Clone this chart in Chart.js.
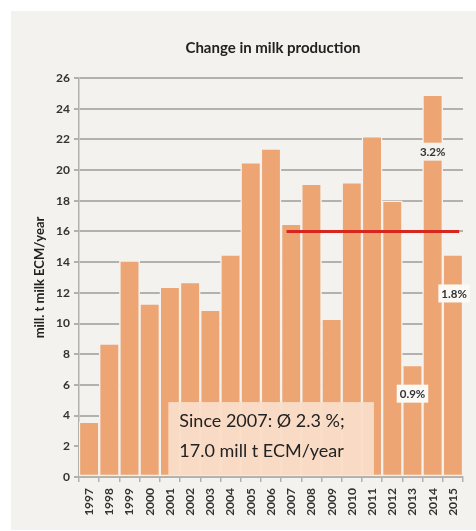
<!DOCTYPE html>
<html>
<head>
<meta charset="utf-8">
<script src="https://cdn.jsdelivr.net/npm/chart.js@4/dist/chart.umd.min.js"></script>
<style>
  html, body { margin: 0; padding: 0; background: #ffffff; }
  #wrap { width: 476px; height: 531px; position: relative; }
</style>
</head>
<body>
<div id="wrap"><canvas id="milk" width="476" height="531"></canvas></div>
<script>
// chart data
const years = ['1997','1998','1999','2000','2001','2002','2003','2004','2005','2006',
  '2007','2008','2009','2010','2011','2012','2013','2014','2015'];
const production = [3.6, 8.7, 14.1, 11.3, 12.4, 12.7, 10.9, 14.5, 20.5, 21.4,
  16.5, 19.1, 10.3, 19.2, 22.2, 18.0, 7.3, 24.9, 14.5];
const yTicks = [0, 2, 4, 6, 8, 10, 12, 14, 16, 18, 20, 22, 24, 26];
const averageSince2007 = 16.0;
const titleText = 'Change in milk production';
const noteLines = ['Since 2007: Ø 2.3 %;', '17.0 mill t ECM/year'];
const pctLabels = ['0.9%', '3.2%', '1.8%'];

const PANEL = '#f3f2ee';
const BAR = '#eda574';
const GRID = '#b3b1ad';
const TEXT = '#333333';
const FONT = 'Lato, "Open Sans", sans-serif';

// panel background behind everything
const panelBg = {
  id: 'panelBg',
  beforeDraw(chart) {
    const c = chart.ctx;
    c.save();
    c.fillStyle = PANEL;
    c.fillRect(11, 11, chart.width - 11, chart.height - 12);
    c.restore();
  }
};

// title centred over the plot, average line, % labels and note box
const extras = {
  id: 'extras',
  afterDatasetsDraw(chart) {
    const c = chart.ctx;
    const x = chart.scales.x, y = chart.scales.y;
    const area = chart.chartArea;
    const step = x.getPixelForValue(1) - x.getPixelForValue(0);
    const xAt = (i, f) => x.getPixelForValue(i) + f * step;

    c.save();
    c.fillStyle = '#222';
    c.font = 'bold 15px ' + FONT;
    c.textAlign = 'center';
    c.textBaseline = 'middle';
    c.fillText(titleText, (area.left + area.right) / 2 + 2, area.top - 30);

    // red average line 2007 - 2015
    c.strokeStyle = '#d7261e';
    c.lineWidth = 3;
    c.beginPath();
    c.moveTo(xAt(10, -0.23), y.getPixelForValue(averageSince2007));
    c.lineTo(xAt(18, 0.31), y.getPixelForValue(averageSince2007));
    c.stroke();

    // percent labels
    const tags = [
      { text: pctLabels[0], i: 16, v: 5.43, bg: '#fbfaf7' },
      { text: pctLabels[1], i: 17, v: 21.2, bg: PANEL },
      { text: pctLabels[2], i: 18, v: 11.96, bg: '#fbfaf7' }
    ];
    c.font = 'bold 11.5px ' + FONT;
    tags.forEach(t => {
      const cx = xAt(t.i, t.i === 18 ? 0.06 : 0), cy = y.getPixelForValue(t.v);
      const w = c.measureText(t.text).width + 6;
      c.fillStyle = t.bg;
      c.fillRect(cx - w / 2, cy - 9, w, 18);
      c.fillStyle = TEXT;
      c.fillText(t.text, cx, cy + 1);
    });

    // note box
    const bx0 = xAt(3, 0.92), bx1 = xAt(14, 0.09);
    const by0 = y.getPixelForValue(4.88), by1 = y.getPixelForValue(0.1);
    c.fillStyle = 'rgba(249,221,199,0.97)';
    c.fillRect(bx0, by0, bx1 - bx0, by1 - by0);
    c.fillStyle = '#222';
    c.font = '18px ' + FONT;
    c.textAlign = 'left';
    c.textBaseline = 'alphabetic';
    c.fillText(noteLines[0], bx0 + 11, by0 + 25);
    c.fillText(noteLines[1], bx0 + 11, by0 + 55);
    c.restore();
  }
};

new Chart(document.getElementById('milk'), {
  type: 'bar',
  data: {
    labels: years,
    datasets: [{
      data: production,
      backgroundColor: BAR,
      borderColor: PANEL,
      borderWidth: 1.5,
      borderSkipped: false,
      categoryPercentage: 1,
      barPercentage: 1
    }]
  },
  options: {
    responsive: false,
    animation: false,
    layout: { padding: { left: 11, right: 13, top: 78, bottom: 12 } },
    plugins: {
      legend: { display: false },
      tooltip: { enabled: false },
      title: { display: false }
    },
    scales: {
      x: {
        grid: { offset: true, drawOnChartArea: false, color: GRID, lineWidth: 1.5, tickLength: 5 },
        border: { color: GRID, width: 1.5 },
        ticks: {
          minRotation: 90, maxRotation: 90, autoSkip: false,
          color: TEXT, padding: 6,
          font: { family: FONT, size: 12, weight: 'bold' }
        },
        afterFit(s) { s.height = 42; }
      },
      y: {
        min: 0, max: 26,
        afterBuildTicks(s) { s.ticks = yTicks.map(v => ({ value: v })); },
        grid: { color: GRID, lineWidth: 2, tickLength: 5 },
        border: { color: GRID, width: 1.5 },
        ticks: {
          color: TEXT, padding: 4,
          font: { family: FONT, size: 12, weight: 'bold' }
        },
        title: {
          display: true,
          text: 'mill. t milk ECM/year',
          color: '#222',
          padding: { top: 21, bottom: 4 },
          font: { family: FONT, size: 13, weight: 'bold' }
        },
        afterFit(s) { s.width = 68; }
      }
    }
  },
  plugins: [panelBg, extras]
});
</script>
</body>
</html>
